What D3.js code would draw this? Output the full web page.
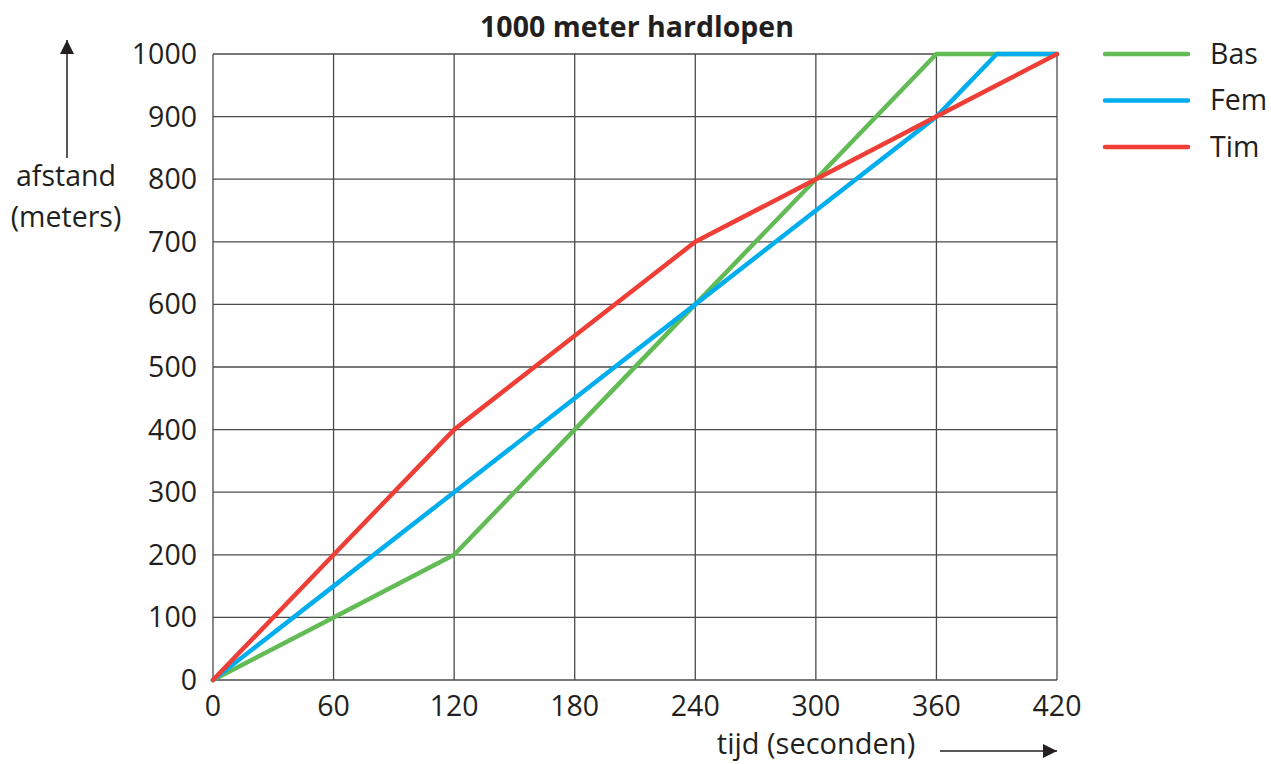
<!DOCTYPE html>
<html>
<head>
<meta charset="utf-8">
<script src="https://cdn.jsdelivr.net/npm/d3@7"></script>
<style>
  body { margin: 0; background: #fff; }
  text { font-family: "Open Sans", "Noto Sans", sans-serif; fill: #231f20; }
</style>
</head>
<body>
<svg id="chart" width="1271" height="764"></svg>
<script>
// tijd in seconden
var times = [0, 60, 120, 180, 240, 300, 360, 390, 420];
// afstand in meters per loper
var bas = [0, 100, 200, 400, 600, 800, 1000, 1000, 1000];
var fem = [0, 150, 300, 450, 600, 750, 900, 1000, 1000];
var tim = [0, 200, 400, 550, 700, 800, 900, 950, 1000];
var xTicks = [0, 60, 120, 180, 240, 300, 360, 420];
var yTicks = [0, 100, 200, 300, 400, 500, 600, 700, 800, 900, 1000];
var runners = ["Bas", "Fem", "Tim"];
var colors = ["#62bb55", "#00aeef", "#ef3e36"];

var svg = d3.select("#chart");
var margin = {left: 213, right: 214, top: 54, bottom: 84};
var width = 1271, height = 764;
var fs = 28.5;

var x = d3.scaleLinear().domain([0, 420]).range([margin.left, width - margin.right]);
var y = d3.scaleLinear().domain([0, 1000]).range([height - margin.bottom, margin.top]);

// grid
var grid = svg.append("g").attr("stroke", "#4a4a4a").attr("stroke-width", 1.3);
grid.selectAll("line.v").data(xTicks).enter().append("line")
    .attr("x1", d => x(d)).attr("x2", d => x(d))
    .attr("y1", y(0)).attr("y2", y(1000));
grid.selectAll("line.h").data(yTicks).enter().append("line")
    .attr("x1", x(0)).attr("x2", x(420))
    .attr("y1", d => y(d)).attr("y2", d => y(d));

// tick labels
svg.append("g").selectAll("text").data(yTicks).enter().append("text")
    .attr("x", x(0) - 16).attr("y", d => y(d))
    .attr("dy", "0.35em").attr("text-anchor", "end")
    .attr("font-size", fs).text(d => d);
svg.append("g").selectAll("text").data(xTicks).enter().append("text")
    .attr("x", d => x(d)).attr("y", y(0) + 36)
    .attr("text-anchor", "middle")
    .attr("font-size", fs).text(d => d);

// lines
var series = [bas, fem, tim];
var line = d3.line().x((d, i) => x(times[i])).y(d => y(d));
svg.append("g").selectAll("path").data(series).enter().append("path")
    .attr("d", line)
    .attr("fill", "none")
    .attr("stroke", (d, i) => colors[i])
    .attr("stroke-width", 4.5)
    .attr("stroke-linejoin", "round")
    .attr("stroke-linecap", "round");

// legend
var lg = svg.append("g").selectAll("g").data(runners).enter().append("g")
    .attr("transform", (d, i) => "translate(1105," + (54 + i * 46.5) + ")");
lg.append("line").attr("x1", 0).attr("x2", 83)
    .attr("stroke", (d, i) => colors[i]).attr("stroke-width", 4.5)
    .attr("stroke-linecap", "round");
lg.append("text").attr("x", 105).attr("dy", "0.35em")
    .attr("font-size", fs).text(d => d);

// title
svg.append("text").attr("x", 637).attr("y", 37)
    .attr("text-anchor", "middle").attr("font-size", fs)
    .attr("font-weight", "bold").text("1000 meter hardlopen");

// arrows
svg.append("defs").append("marker")
    .attr("id", "arrow").attr("viewBox", "0 0 10 10")
    .attr("refX", 10).attr("refY", 5)
    .attr("markerWidth", 14).attr("markerHeight", 14)
    .attr("markerUnits", "userSpaceOnUse")
    .attr("orient", "auto")
    .append("path").attr("d", "M0,0 L10,5 L0,10 Z").attr("fill", "#231f20");

svg.append("line").attr("x1", 67).attr("x2", 67).attr("y1", 158).attr("y2", 40)
    .attr("stroke", "#231f20").attr("stroke-width", 1.5)
    .attr("marker-end", "url(#arrow)");

svg.append("text").attr("x", 66).attr("y", 186).attr("text-anchor", "middle")
    .attr("font-size", fs).text("afstand");
svg.append("text").attr("x", 66).attr("y", 227).attr("text-anchor", "middle")
    .attr("font-size", fs).text("(meters)");

svg.append("text").attr("x", 816).attr("y", 754).attr("text-anchor", "middle")
    .attr("font-size", 29).text("tijd (seconden)");
svg.append("line").attr("x1", 940).attr("x2", 1057).attr("y1", 751).attr("y2", 751)
    .attr("stroke", "#231f20").attr("stroke-width", 1.5)
    .attr("marker-end", "url(#arrow)");
</script>
</body>
</html>
